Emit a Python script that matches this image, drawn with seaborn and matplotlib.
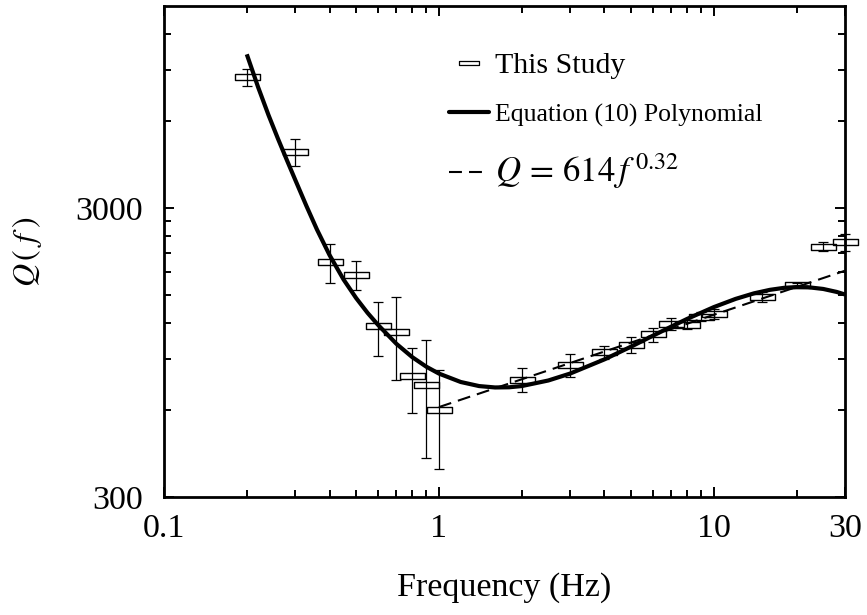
import matplotlib
matplotlib.use("Agg")
import numpy as np
import pandas as pd
import matplotlib.pyplot as plt
import seaborn as sns
from matplotlib.path import Path
from matplotlib.lines import Line2D
from matplotlib.ticker import FixedLocator, FixedFormatter, NullFormatter

# ---------------- data ----------------
freq_hz = [0.2, 0.3, 0.4, 0.5, 0.6, 0.7, 0.8, 0.9, 1.0, 2, 3, 4, 5, 6, 7, 8, 9, 10, 15, 20, 25, 30]
q_obs = [8510, 4690, 1950, 1760, 1170, 1120, 785, 730, 600, 765, 860, 953, 1010, 1095,
         1190, 1185, 1262, 1292, 1477, 1626, 2205, 2287]
q_err = [600, 500, 300, 200, 245, 360, 200, 320, 225, 75, 80, 50, 65, 60,
         55, 40, 45, 55, 62, 20, 75, 150]

# Equation (10) polynomial curve
poly_f = [0.2, 0.21, 0.22, 0.24, 0.26, 0.28, 0.3, 0.33, 0.36, 0.4, 0.45, 0.5, 0.55, 0.6,
          0.7, 0.8, 0.9, 1.0, 1.2, 1.4, 1.6, 1.8, 2.0, 2.5, 3, 4, 5, 6, 7, 8, 10,
          12, 14, 16, 18, 20, 22, 25, 28, 30]
poly_q = [10210, 8925, 7848, 6285, 5196, 4387, 3758, 3041, 2527, 2062, 1696, 1463, 1301, 1183,
          1017, 914, 847, 802, 750, 726, 718, 719, 726, 759, 802, 898, 994, 1084, 1166, 1240, 1362,
          1454, 1520, 1563, 1588, 1598, 1596, 1574, 1537, 1506]

# Q = 614 f^0.32 power law, end points
power_f = [1, 30]
power_q = [614, 1820]

x_ticks = [0.1, 1, 10, 30]
x_tick_labels = ["0.1", "1", "10", "30"]
x_minor = [0.2, 0.3, 0.4, 0.5, 0.6, 0.7, 0.8, 0.9, 2, 3, 4, 5, 6, 7, 8, 9, 20]
y_ticks = [300, 3000]
y_tick_labels = ["300", "3000"]
y_minor = [600, 900, 1200, 1500, 1800, 2100, 2400, 2700, 6000, 9000, 12000]

legend_labels = ["This Study", "Equation (10) Polynomial", r"$Q\,=\,614\,f^{\,0.32}$"]

# ---------------- style ----------------
sns.set_theme(style="ticks")
plt.rcParams["font.family"] = ["Liberation Serif", "DejaVu Serif"]
plt.rcParams["mathtext.fontset"] = "stix"

fig, ax = plt.subplots(figsize=(8.67, 6.15), dpi=100)
fig.subplots_adjust(left=0.1892, right=0.9746, top=0.9902, bottom=0.1919)

rect = Path([(-0.5, -0.11), (0.5, -0.11), (0.5, 0.11), (-0.5, 0.11), (-0.5, -0.11)],
            [Path.MOVETO, Path.LINETO, Path.LINETO, Path.LINETO, Path.CLOSEPOLY])

poly_df = pd.DataFrame({"f": poly_f, "Q": poly_q})
power_df = pd.DataFrame({"f": power_f, "Q": power_q})
obs_df = pd.DataFrame({"f": freq_hz, "Q": q_obs, "err": q_err})

sns.lineplot(data=poly_df, x="f", y="Q", ax=ax, color="black", lw=3.0, sort=False,
             solid_joinstyle="round", solid_capstyle="butt")
sns.lineplot(data=power_df, x="f", y="Q", ax=ax, color="black", lw=1.5,
             linestyle=(0, (6.2, 3.4)))

ax.errorbar(obs_df["f"], obs_df["Q"], yerr=obs_df["err"], fmt="none", ecolor="black",
            elinewidth=0.9, capsize=3.5, capthick=0.9, clip_on=False, zorder=3)
ax.plot(obs_df["f"], obs_df["Q"], linestyle="none", marker=rect, markersize=18,
        markerfacecolor="none", markeredgecolor="black", markeredgewidth=1.0,
        clip_on=False, zorder=4)

ax.set_xscale("log")
ax.set_yscale("log")
ax.set_xlim(0.1, 30)
ax.set_ylim(300, 15000)

ax.xaxis.set_major_locator(FixedLocator(x_ticks))
ax.xaxis.set_major_formatter(FixedFormatter(x_tick_labels))
ax.xaxis.set_minor_locator(FixedLocator(x_minor))
ax.xaxis.set_minor_formatter(NullFormatter())
ax.yaxis.set_major_locator(FixedLocator(y_ticks))
ax.yaxis.set_major_formatter(FixedFormatter(y_tick_labels))
ax.yaxis.set_minor_locator(FixedLocator(y_minor))
ax.yaxis.set_minor_formatter(NullFormatter())

ax.tick_params(which="both", direction="in", top=True, right=True, color="black",
               width=1.4, labelcolor="black")
ax.tick_params(which="major", length=7.5, labelsize=24.5)
ax.tick_params(which="minor", length=5)
ax.tick_params(axis="x", which="major", pad=12)
ax.tick_params(axis="y", which="major", pad=15)

for sp in ax.spines.values():
    sp.set_visible(True)
    sp.set_linewidth(2.0)
    sp.set_color("black")

ax.set_xlabel("Frequency (Hz)", fontsize=24.5, labelpad=20, color="black")
ax.set_ylabel(r"$Q\,(\;f\;)$", fontsize=23, labelpad=23, color="black")

handles = [
    Line2D([], [], linestyle="none", marker=rect, markersize=14, markerfacecolor="none",
           markeredgecolor="black", markeredgewidth=0.9),
    Line2D([], [], color="black", lw=3.0),
    Line2D([], [], color="black", lw=1.5, linestyle=(0, (6.2, 3.4))),
]
leg = ax.legend(handles, legend_labels, loc="upper left", bbox_to_anchor=(0.4185, 0.905),
                frameon=False, fontsize=20, handlelength=1.45, handletextpad=0.2,
                labelspacing=0.85, borderpad=0, borderaxespad=0)
sizes = [21.5, 18.5, 25]
for t, s in zip(leg.get_texts(), sizes):
    t.set_fontsize(s)
    t.set_color("black")

fig.savefig("out.png", dpi=100)
